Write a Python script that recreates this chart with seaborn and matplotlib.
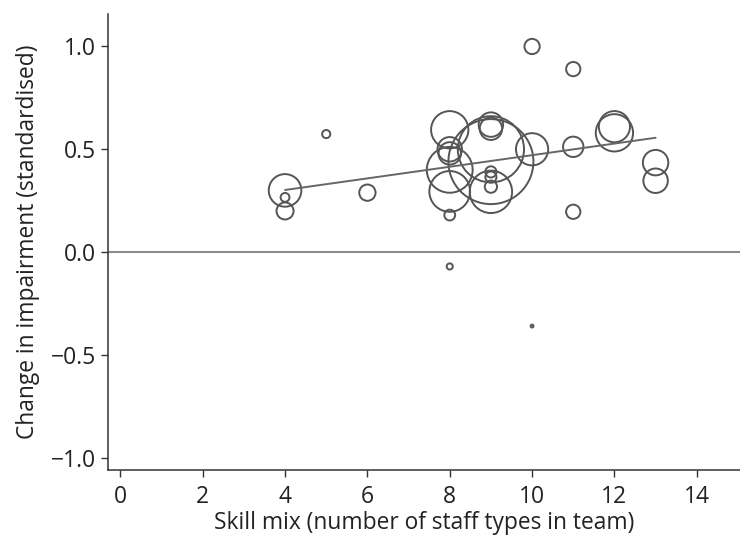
import matplotlib
matplotlib.use("Agg")
import matplotlib.pyplot as plt
import seaborn as sns
import numpy as np
import pandas as pd

# Skill mix (number of staff types) per study
skill_mix = [4, 4, 4, 5, 6,
             8, 8, 8, 8, 8, 8, 8,
             9, 9, 9, 9, 9, 9, 9, 9,
             10, 10, 10,
             11, 11, 11,
             12, 12,
             13, 13]
# Change in impairment (standardised)
change = [0.30, 0.266, 0.20, 0.574, 0.289,
          0.595, 0.50, 0.48, 0.40, 0.295, 0.18, -0.07,
          0.62, 0.60, 0.50, 0.44, 0.293, 0.39, 0.365, 0.318,
          1.00, 0.50, -0.36,
          0.89, 0.512, 0.196,
          0.58, 0.61,
          0.435, 0.347]
# Study weight (relative, proportional to circle area)
weight = [256, 19, 70, 16, 64,
          335, 144, 121, 506, 400, 28, 9,
          144, 121, 1056, 1740, 433, 30, 30, 36,
          56, 250, 2,
          49, 100, 49,
          335, 234,
          156, 144]

# Weighted regression line (from chart)
fit_x = [4, 13]
fit_y = [0.302, 0.556]

df = pd.DataFrame({"x": skill_mix, "y": change, "w": weight})

sns.set_style("ticks")
plt.rcParams["font.family"] = ["Open Sans", "DejaVu Sans"]

fig = plt.figure(figsize=(7.4, 5.36), dpi=100)
ax = fig.add_axes([108 / 740, 66 / 536, 632 / 740, 456 / 536])

wmax = max(weight)
smax = (2 * 42.5 * 0.72) ** 2
sns.scatterplot(data=df, x="x", y="y", size="w", sizes=(0, smax),
                size_norm=(0, wmax), facecolor="none", edgecolor="#555555",
                linewidth=1.4, legend=False, ax=ax)

ax.axhline(0, color="#8c8c8c", linewidth=1.5, zorder=1)
sns.lineplot(x=fit_x, y=fit_y, color="#666666", linewidth=1.4, ax=ax)

ax.set_xlim(-0.3, 15.05)
ax.set_ylim(-1.06, 1.158)
ax.set_xticks(range(0, 15, 2))
ax.set_yticks([-1.0, -0.5, 0.0, 0.5, 1.0])
ax.set_yticklabels(["\u22121.0", "\u22120.5", "0.0", "0.5", "1.0"])

sns.despine(ax=ax)
for sp in ["left", "bottom"]:
    ax.spines[sp].set_color("#333333")
    ax.spines[sp].set_linewidth(1.1)
ax.tick_params(axis="both", direction="out", length=5, width=1.0,
               color="#333333", labelsize=16.5, labelcolor="#222222")
ax.tick_params(axis="x", pad=6)
ax.tick_params(axis="y", pad=3.5)

ax.set_xlabel("Skill mix (number of staff types in team)", fontsize=16.4,
              color="#222222")
ax.set_ylabel("Change in impairment (standardised)", fontsize=16.4,
              color="#222222")
ax.xaxis.set_label_coords(0.5, -(511 - 470) / 456)
ax.yaxis.set_label_coords(-(108 - 40) / 632, 0.5)

fig.savefig("out.png", dpi=100)
